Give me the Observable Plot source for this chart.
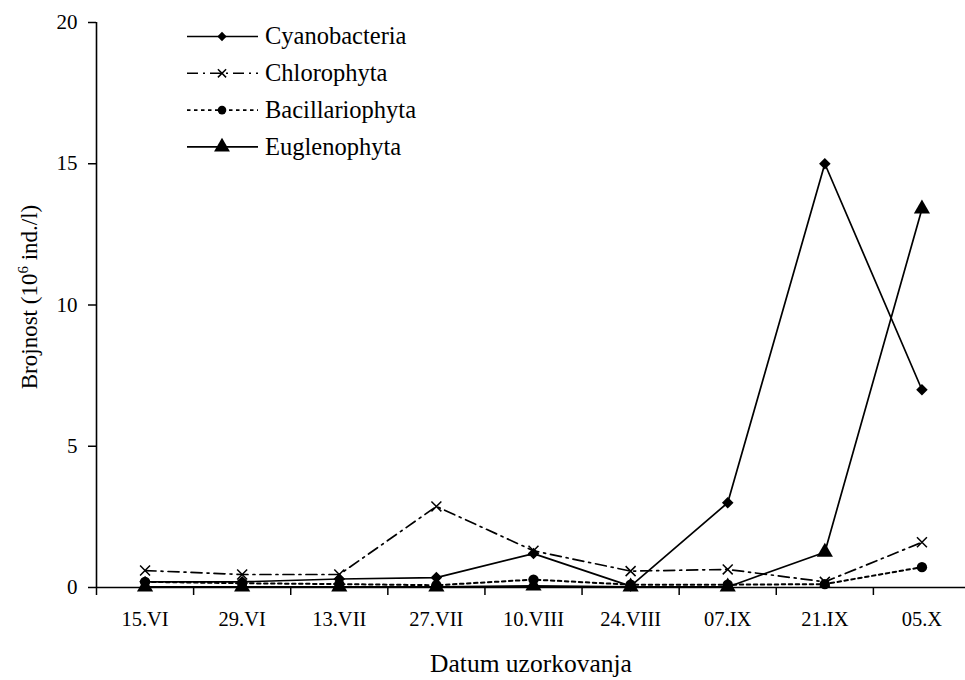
<!DOCTYPE html>
<html><head><meta charset="utf-8">
<script src="https://cdn.jsdelivr.net/npm/d3@7"></script>
<script src="https://cdn.jsdelivr.net/npm/@observablehq/plot@0.6"></script>
<style>
body{margin:0;background:#fff;}
#chart{position:relative;width:965px;height:680px;font-family:"Liberation Serif","Times New Roman",serif;overflow:hidden;}
#overlay{position:absolute;left:0;top:0;}
</style></head><body><div id="chart"></div>
<script>
const dates = ["15.VI","29.VI","13.VII","27.VII","10.VIII","24.VIII","07.IX","21.IX","05.X"];
const cyanobacteria   = [0.2, 0.2, 0.3, 0.35, 1.2, 0.05, 3.0, 15.0, 7.0];
const chlorophyta     = [0.6, 0.46, 0.46, 2.87, 1.3, 0.58, 0.64, 0.2, 1.6];
const bacillariophyta = [0.2, 0.15, 0.12, 0.08, 0.28, 0.1, 0.1, 0.12, 0.72];
const euglenophyta    = [0.02, 0.02, 0.02, 0.02, 0.06, 0.02, 0.02, 1.25, 13.4];
const seriesNames = ["Cyanobacteria","Chlorophyta","Bacillariophyta","Euglenophyta"];
const yTicks = [0,5,10,15,20];
const yLabelParts = ["Brojnost (10", "6", " ind./l)"];
const xLabel = "Datum uzorkovanja";
const FONT = '"Liberation Serif","Times New Roman",serif';

const styles = {
  Cyanobacteria:   {symbol:"diamond2", r:5.2, lr:4.2, fill:"#000", stroke:"none", dash:null, sw:0},
  Chlorophyta:     {symbol:"times", r:4.6, lr:3.8, fill:"none", stroke:"#000", dash:"11,5,2,5", sw:1.5},
  Bacillariophyta: {symbol:"circle", r:5.2, lr:4.3, fill:"#000", stroke:"none", dash:"3.5,3.5", sw:0},
  Euglenophyta:    {symbol:"triangle", r:6, lr:5.9, fill:"#000", stroke:"none", dash:null, sw:0}
};
const valuesBy = {Cyanobacteria:cyanobacteria, Chlorophyta:chlorophyta, Bacillariophyta:bacillariophyta, Euglenophyta:euglenophyta};

const rows = seriesNames.map(name => valuesBy[name].map((v,i) => ({series:name, pos:i+0.5, date:dates[i], value:v})));

const dataMarks = [];
rows.forEach(d => {
  const st = styles[d[0].series];
  dataMarks.push(Plot.line(d, {x:"pos", y:"value", stroke:"#000", strokeWidth:st.dash && st.dash.startsWith("3.5") ? 2 : 1.7, strokeDasharray:st.dash}));
});
rows.forEach(d => {
  const st = styles[d[0].series];
  dataMarks.push(Plot.dot(d, {x:"pos", y:"value", symbol:()=>st.symbol, r:st.r, fill:st.fill, stroke:st.stroke, strokeWidth:st.sw}));
});

const chart = Plot.plot({
  width:965, height:680,
  marginLeft:96, marginRight:0, marginTop:22, marginBottom:93,
  style:{fontFamily:FONT, fontSize:"20.5px", color:"#000", background:"#fff", overflow:"visible"},
  x:{type:"linear", domain:[0,9], range:[96,970]},
  y:{domain:[0,20]},
  symbol:{type:"identity"},
  marks:[
    Plot.axisY({ticks:yTicks, tickSize:8, tickPadding:11, strokeWidth:1.5, label:null, fontSize:21}),
    Plot.axisX({ticks:d3.range(dates.length+1), tickSize:8, strokeWidth:1.5, tickFormat:()=>"", label:xLabel, labelAnchor:"center", labelArrow:"none", labelOffset:84, fontSize:25.5}),
    Plot.axisX({ticks:dates.map((d,i)=>i+0.5), tickSize:0, tickPadding:24, tickFormat:v=>dates[Math.floor(v)], label:null, fontSize:20.5}),
    Plot.ruleX([0], {strokeWidth:1.6}),
    Plot.ruleY([0], {strokeWidth:1.6}),
    ...dataMarks
  ]
});
document.getElementById("chart").appendChild(chart);

// overlay: y title with superscript + legend
const ov = d3.select("#chart").append("svg").attr("id","overlay").attr("width",965).attr("height",680)
  .style("pointer-events","none").attr("font-family",FONT);
const yt = ov.append("text").attr("transform","translate(37,297) rotate(-90)")
  .attr("text-anchor","middle").attr("font-size",23).attr("fill","#000");
yt.append("tspan").text(yLabelParts[0]);
yt.append("tspan").attr("font-size",15).attr("dy",-9).text(yLabelParts[1]);
yt.append("tspan").attr("dy",9).text(yLabelParts[2]);

const sym = {diamond2:d3.symbolDiamond2, times:d3.symbolTimes, circle:d3.symbolCircle, triangle:d3.symbolTriangle};
seriesNames.forEach((name,k) => {
  const st = styles[name];
  const y = 36.5 + k*36.8;
  const g = ov.append("g").attr("transform",`translate(0,${y})`);
  g.append("line").attr("x1",187).attr("x2",258).attr("y1",0).attr("y2",0)
    .attr("stroke","#000").attr("stroke-width",1.6).attr("stroke-dasharray",st.dash);
  const area = Math.PI*st.lr*st.lr;
  g.append("path").attr("d", d3.symbol(sym[st.symbol], area)()).attr("transform","translate(222,0)")
    .attr("fill", st.fill).attr("stroke", st.stroke).attr("stroke-width", st.sw);
  g.append("text").attr("x",265).attr("y",0).attr("dy","0.32em").attr("font-size",24.5)
    .attr("fill","#000").text(name);
});
</script></body></html>
